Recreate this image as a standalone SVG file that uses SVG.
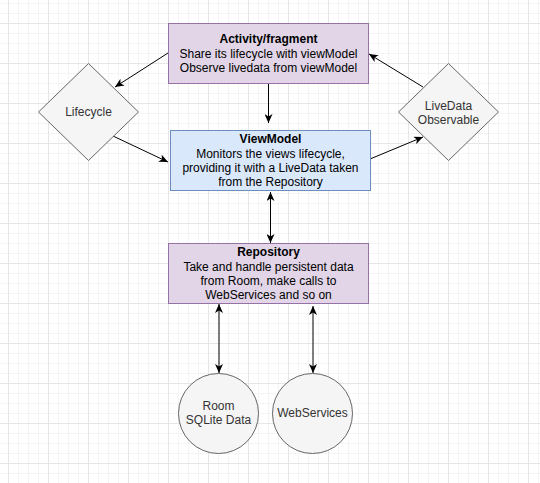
<svg xmlns="http://www.w3.org/2000/svg" width="540" height="483" viewBox="0 0 540 483">
<defs>
<pattern id="grid" patternUnits="userSpaceOnUse" x="8" y="23" width="40" height="40">
<path d="M10.5,0V40M20.5,0V40M30.5,0V40M0,10.5H40M0,20.5H40M0,30.5H40" stroke="#f4f4f4" stroke-width="1" fill="none"/>
<path d="M0.5,0V40M0,0.5H40" stroke="#e6e6e6" stroke-width="1" fill="none"/>
</pattern>
<marker id="arr" markerUnits="userSpaceOnUse" viewBox="0 0 10 8" refX="9" refY="4" markerWidth="10" markerHeight="8" orient="auto-start-reverse">
<path d="M0,0 L9,4 L0,8 L2.5,4 Z" fill="#000"/>
</marker>
<style>
.lbl{font-family:"Liberation Sans",Arial,sans-serif;font-size:12px;text-anchor:middle;fill:#000}
.b{font-weight:bold}
.g{fill:#333333}
.edge{stroke:#000;stroke-width:1;fill:none;marker-end:url(#arr)}
.both{marker-start:url(#arr)}
.purple{fill:#e1d5e7;stroke:#9673a6;stroke-width:1}
.blue{fill:#dae8fc;stroke:#6c8ebf;stroke-width:1}
.gray{fill:#f5f5f5;stroke:#666666;stroke-width:1}
</style>
</defs>
<rect width="540" height="483" fill="#ffffff"/>
<rect width="540" height="483" fill="url(#grid)"/>

<g id="connectors">
<path class="edge" d="M168,53 L115,87"/>
<path class="edge" d="M113,136 L168,162"/>
<path class="edge" d="M268.5,83 L268.5,123"/>
<path class="edge" d="M370,159 L423,137"/>
<path class="edge" d="M423,87 L369,54"/>
<path class="edge both" d="M270.5,192 L270.5,243"/>
<path class="edge both" d="M219,304 L219,373"/>
<path class="edge both" d="M313,306 L313,373"/>
</g>

<g id="activity">
<rect class="purple" x="168.5" y="23.5" width="200" height="60"/>
<text class="lbl b" x="268.5" y="43">Activity/fragment</text>
<text class="lbl" x="268.5" y="57.5">Share its lifecycle with viewModel</text>
<text class="lbl" x="268.5" y="72">Observe livedata from viewModel</text>
</g>

<g id="viewmodel">
<rect class="blue" x="170.5" y="130.5" width="200" height="60"/>
<text class="lbl b" x="270.5" y="143">ViewModel</text>
<text class="lbl" x="270.5" y="157.5">Monitors the views lifecycle,</text>
<text class="lbl" x="270.5" y="172">providing it with a LiveData taken</text>
<text class="lbl" x="270.5" y="186">from the Repository</text>
</g>

<g id="repository">
<rect class="purple" x="168.5" y="243.5" width="200" height="60"/>
<text class="lbl b" x="268.5" y="256">Repository</text>
<text class="lbl" x="268.5" y="270.5">Take and handle persistent data</text>
<text class="lbl" x="268.5" y="285">from Room, make calls to</text>
<text class="lbl" x="268.5" y="299">WebServices and so on</text>
</g>

<g id="lifecycle">
<path class="gray" d="M88.5,63.5 L138.5,112 L88.5,160.5 L38.5,112 Z"/>
<text class="lbl g" x="88.5" y="116">Lifecycle</text>
</g>

<g id="livedata">
<path class="gray" d="M448.5,63.5 L498.5,112 L448.5,160.5 L398.5,112 Z"/>
<text class="lbl g" x="448.5" y="109.5">LiveData</text>
<text class="lbl g" x="448.5" y="123.5">Observable</text>
</g>

<g id="room">
<circle class="gray" cx="218.5" cy="413.5" r="40"/>
<text class="lbl g" x="218.5" y="410">Room</text>
<text class="lbl g" x="218.5" y="424">SQLite Data</text>
</g>

<g id="webservices">
<circle class="gray" cx="312.5" cy="413.5" r="40"/>
<text class="lbl g" x="312.5" y="417">WebServices</text>
</g>
</svg>
